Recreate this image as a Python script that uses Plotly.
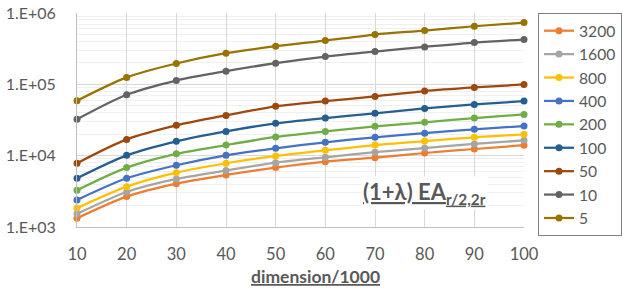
import plotly.graph_objects as go

dimension = [10, 20, 30, 40, 50, 60, 70, 80, 90, 100]
series_names = ["3200", "1600", "800", "400", "200", "100", "50", "10", "5"]
v3200 = [1330, 2670, 4050, 5370, 6800, 8240, 9380, 10900, 12400, 14000]
v1600 = [1530, 3100, 4720, 6180, 7980, 9500, 11200, 12800, 14600, 16400]
v800 = [1840, 3680, 5780, 7830, 9900, 11900, 14100, 16000, 18100, 19900]
v400 = [2400, 4830, 7340, 10100, 12700, 15400, 18100, 20700, 23400, 26000]
v200 = [3280, 6800, 10600, 14100, 18300, 21900, 25800, 29300, 33700, 37900]
v100 = [4830, 10100, 15900, 21900, 28400, 33700, 39200, 46000, 52300, 58200]
v50 = [7830, 16900, 26600, 36700, 49100, 58200, 67700, 80400, 90500, 99700]
v10 = [32300, 71300, 113000, 153000, 198000, 245000, 288000, 334000, 385000, 425000]
v5 = [58800, 125000, 196000, 273000, 342000, 411000, 499000, 567000, 652000, 734000]
series_values = [v3200, v1600, v800, v400, v200, v100, v50, v10, v5]
colors = ["#ED7D31", "#A5A5A5", "#FFC000", "#4472C4", "#70AD47",
          "#255E91", "#9E480E", "#636363", "#997300"]
y_tickvals = [1e3, 1e4, 1e5, 1e6]
y_ticktext = ["1.E+03", "1.E+04", "1.E+05", "1.E+06"]

FONT = "Lato"
TXT = "#595959"
W, H = 630, 291
ML, MR, MT, MB = 77, 106, 13, 64
pw, ph = W - ML - MR, H - MT - MB


def px_x(p):
    return (p - ML) / pw


def px_y(p):
    return 1 - (p - MT) / ph


fig = go.Figure()
for name, vals, c in zip(series_names, series_values, colors):
    fig.add_trace(go.Scatter(
        x=dimension, y=vals, name=name, mode="lines+markers",
        line=dict(color=c, width=2.25, shape="spline", smoothing=0.8),
        marker=dict(color=c, size=7), cliponaxis=False))

fig.update_layout(
    width=W, height=H,
    margin=dict(l=ML, r=MR, t=MT, b=MB, autoexpand=False),
    paper_bgcolor="white", plot_bgcolor="white",
    font=dict(family=FONT, color=TXT, size=15),
    showlegend=True,
    legend=dict(x=px_x(538), y=px_y(13), xanchor="left", yanchor="top",
                borderwidth=1, bordercolor="#808080", bgcolor="white",
                font=dict(family=FONT, size=15.7, color=TXT),
                tracegroupgap=0, itemwidth=30, maxheight=270),
    xaxis=dict(range=[10, 100], tickvals=dimension, showgrid=True,
               gridcolor="#D9D9D9", gridwidth=1, showline=True,
               linecolor="#BFBFBF", linewidth=1, zeroline=False,
               ticks="", tickfont=dict(size=16.5, color=TXT),
               ticklabelstandoff=12),
    yaxis=dict(type="log", range=[3, 6], tickvals=y_tickvals,
               ticktext=y_ticktext, showgrid=True, gridcolor="#D9D9D9",
               showline=True, linecolor="#BFBFBF", linewidth=1,
               zeroline=False, ticks="", tickfont=dict(size=16, color=TXT),
               ticklabelstandoff=17,
               minor=dict(showgrid=True, gridcolor="#F0F0F0", dtick="D1")),
    annotations=[
        dict(text="<b><u>dimension/1000</u></b>", xref="paper", yref="paper",
             x=px_x(315), y=px_y(276), xanchor="center",
             yanchor="middle", showarrow=False,
             font=dict(family=FONT, size=17.5, color=TXT)),
        dict(text="<b><u>(1+λ) EA<sub>r/2,2r</sub></u></b>", xref="x", yref="paper",
             x=80.0, y=px_y(193), xanchor="center", yanchor="middle",
             showarrow=False, bgcolor="white",
             font=dict(family=FONT, size=22, color=TXT)),
    ],
)

fig.write_html(
    "out.html",
    config={"displayModeBar": False},
    post_script=(
        "document.body.style.margin='0';"
        "document.body.style.overflow='hidden';"
        "var d=document.querySelector('.plotly-graph-div');"
        "d.style.outline='1px solid #D9D9D9';"
        "d.style.outlineOffset='-1px';"
    ),
)
